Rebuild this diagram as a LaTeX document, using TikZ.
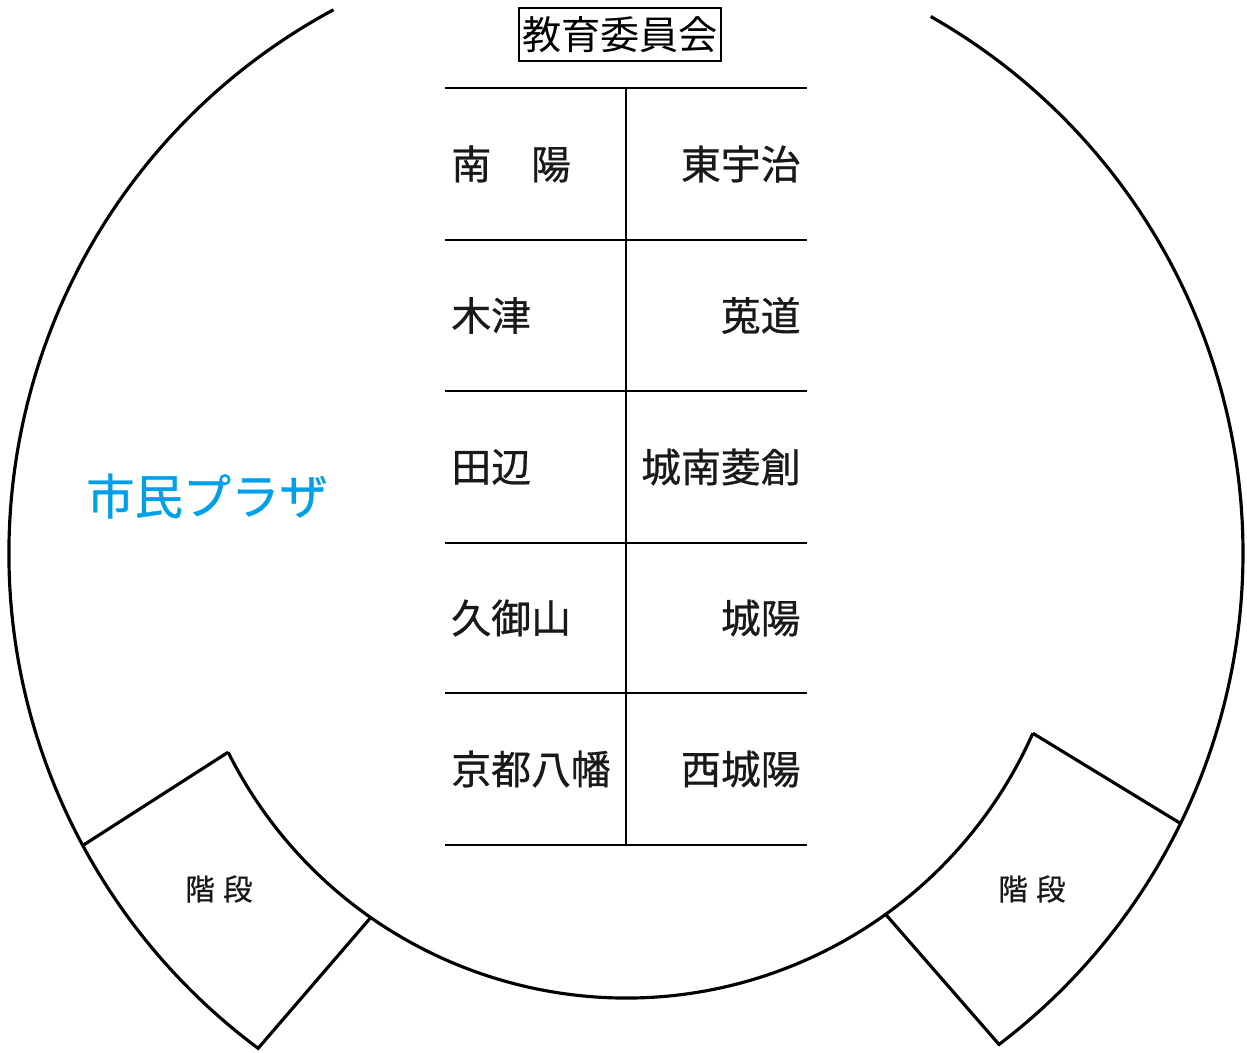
\documentclass[tikz,border=0pt]{standalone}
\usepackage{fontspec}
\newfontfamily\jp{Noto Sans CJK JP}
\newfontfamily\jpm{Noto Sans CJK JP}[FakeBold=0.7]
\usetikzlibrary{calc}
\definecolor{plaza}{RGB}{0,160,233}
\begin{document}
\begin{tikzpicture}[x=0.02cm,y=0.02cm,
  wall/.style={line width=1.8pt, line join=miter, line cap=butt},
  grid/.style={line width=1.2pt},
  cell/.style={font=\jpm\fontsize{22.7pt}{27pt}\selectfont, inner sep=0pt, text=black!90},
  stairs/.style={font=\jpm\fontsize{16.8pt}{20pt}\selectfont, inner sep=0pt, text=black!90},
  titlebox/.style={draw, line width=1.1pt, font=\jp\fontsize{22.3pt}{27pt}\selectfont, inner xsep=1.5pt, minimum height=1.06cm},
  plazatext/.style={font=\jpm\fontsize{27.5pt}{32pt}\selectfont, text=plaza, inner sep=0pt}]
\useasboundingbox (0,0) rectangle (1247,1053);
\coordinate (C) at (626,500);
% outer wall, left part, and left stair
\coordinate (oL1) at ($(C)+(118.3:617)$);
\coordinate (oL2) at ($(C)+(233.4:617)$);
\coordinate (iL2) at ($(C)+(235:445)$);
\coordinate (iL1) at ($(C)+(206.6:445)$);
\coordinate (oL3) at ($(C)+(208.3:617)$);
\draw[wall] (oL1) arc[start angle=118.3, end angle=233.4, radius=617] -- (iL2);
\draw[wall] (iL1) arc[start angle=206.6, end angle=336.1, radius=445] coordinate (iR1);
\draw[wall] (iL1) -- (oL3);
% outer wall, right part, and right stair
\coordinate (oR2) at ($(C)+(-52.8:617)$);
\coordinate (iR2) at ($(C)+(-54.3:445)$);
\coordinate (oR3) at ($(C)+(-26:617)$);
\draw[wall] (iR2) -- (oR2) arc[start angle=-52.8, end angle=60.4, radius=617];
\draw[wall] (iR1) -- (oR3);
% title
\node[titlebox] (title) at (620,1018.5) {教育委員会};
% table
\foreach \yy in {965,813,662,510,360,208} \draw[grid] (445,\yy) -- (807,\yy);
\draw[grid] (626,965) -- (626,208);
\node[cell, anchor=west] (l1) at (451,889) {南　陽};
\node[cell, anchor=east] (r1) at (801,889) {東宇治};
\node[cell, anchor=west] (l2) at (451,737.5) {木津};
\node[cell, anchor=east] (r2) at (801,737.5) {莵道};
\node[cell, anchor=west] (l3) at (451,586) {田辺};
\node[cell, anchor=east] (r3) at (801,586) {城南菱創};
\node[cell, anchor=west] (l4) at (451,435) {久御山};
\node[cell, anchor=east] (r4) at (801,435) {城陽};
\node[cell, anchor=west] (l5) at (451,284) {京都八幡};
\node[cell, anchor=east] (r5) at (801,284) {西城陽};
% labels
\node[plazatext] (plaza) at (207,557) {市民プラザ};
\node[stairs] (st1) at (219,164) {階\hspace{0.28em}段};
\node[stairs] (st2) at (1032,164) {階\hspace{0.28em}段};
\end{tikzpicture}
\end{document}
